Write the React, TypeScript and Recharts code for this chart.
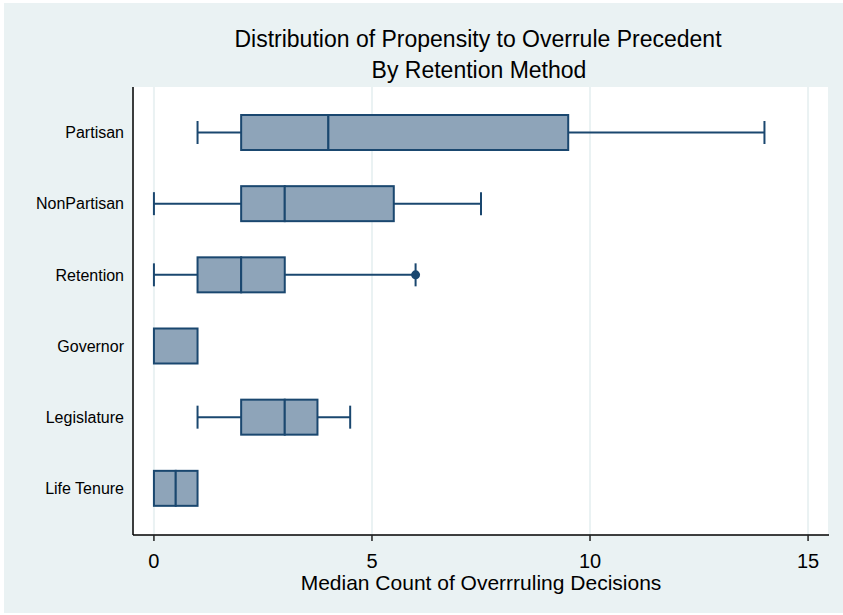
import React from 'react';
import { ComposedChart, Bar, XAxis, YAxis, CartesianGrid } from 'recharts';

const categories = ['Partisan', 'NonPartisan', 'Retention', 'Governor', 'Legislature', 'Life Tenure'];
const whiskerLow = [1, 0, 0, 0, 1, 0];
const quart1 = [2, 2, 1, 0, 2, 0];
const medians = [4, 3, 2, 1, 3, 0.5];
const quart3 = [9.5, 5.5, 3, 1, 3.75, 1];
const whiskerHigh = [14, 7.5, 6, 1, 4.5, 1];
const outliers: (number | null)[] = [null, null, 6, null, null, null];
const xTicks = [0, 5, 10, 15];

const NAVY = '#1a476f';
const BOX_FILL = '#8ea4b9';
const BG = '#eaf2f3';
const FONT = '"Liberation Sans", Arial, sans-serif';

// stacked segments: base | lower whisker | box lower | box upper | upper whisker
const data = categories.map((name, i) => ({
  name,
  base: whiskerLow[i],
  wLow: quart1[i] - whiskerLow[i],
  boxLow: medians[i] - quart1[i],
  boxHigh: quart3[i] - medians[i],
  wHigh: whiskerHigh[i] - quart3[i],
  outlier: outliers[i],
}));

const CAP = 11.5;

const LowWhisker = (p: any) => {
  const { x, y, width, height } = p;
  if (!width || width < 0.5) return <g />;
  const cy = y + height / 2;
  return (
    <g stroke={NAVY} strokeWidth={2}>
      <line x1={x} x2={x + width} y1={cy} y2={cy} />
      <line x1={x} x2={x} y1={cy - CAP} y2={cy + CAP} />
    </g>
  );
};

const HighWhisker = (p: any) => {
  const { x, y, width, height, payload } = p;
  if (!width || width < 0.5) return <g />;
  const cy = y + height / 2;
  const out = payload.outlier;
  // outlier position from the segment's own pixel scale
  const ox = out != null ? x + (width * (out - (payload.base + payload.wLow + payload.boxLow + payload.boxHigh))) / payload.wHigh : null;
  return (
    <g stroke={NAVY} strokeWidth={2}>
      <line x1={x} x2={x + width} y1={cy} y2={cy} />
      <line x1={x + width} x2={x + width} y1={cy - CAP} y2={cy + CAP} />
      {ox != null && <circle cx={ox} cy={cy} r={4.5} fill={NAVY} stroke="none" />}
    </g>
  );
};

const BoxPart = (p: any) => {
  const { x, y, width, height } = p;
  if (!width || width < 0.5) return <g />;
  return <rect x={x} y={y} width={width} height={height} fill={BOX_FILL} stroke={NAVY} strokeWidth={2} />;
};

export default function App() {
  return (
    <div style={{ position: 'absolute', left: 0, top: 0, width: 843, height: 615, background: '#fff', fontFamily: FONT }}>
      <div style={{ position: 'absolute', left: 4, top: 3, width: 839, height: 610, background: BG }} />
      <div style={{ position: 'absolute', left: 0, top: 0 }}>
        <ComposedChart
          width={843}
          height={615}
          data={data}
          layout="vertical"
          margin={{ top: 87, right: 14, left: 0, bottom: 0 }}
        >
          <CartesianGrid horizontal={false} stroke={BG} strokeWidth={2} fill="#ffffff" />
          <XAxis
            type="number"
            domain={[-0.48, 15.48]}
            ticks={xTicks}
            allowDataOverflow
            height={80}
            tickSize={6}
            tickMargin={13}
            axisLine={{ stroke: '#000', strokeWidth: 1.5 }}
            tickLine={{ stroke: '#222', strokeWidth: 1.5 }}
            tick={{ fill: '#000', fontSize: 20, fontFamily: FONT }}
            label={{ value: 'Median Count of Overrruling Decisions', position: 'insideBottom', offset: 25, fill: '#000', fontSize: 21, fontFamily: FONT }}
          />
          <YAxis
            type="category"
            dataKey="name"
            width={133}
            padding={{ top: 10, bottom: 11 }}
            tickLine={false}
            tickSize={0}
            tickMargin={9}
            axisLine={{ stroke: '#000', strokeWidth: 1.5 }}
            tick={{ fill: '#000', fontSize: 16, fontFamily: FONT }}
          />
          <Bar dataKey="base" stackId="b" barSize={35} fill="none" isAnimationActive={false} />
          <Bar dataKey="wLow" stackId="b" barSize={35} shape={LowWhisker} isAnimationActive={false} />
          <Bar dataKey="boxLow" stackId="b" barSize={35} shape={BoxPart} isAnimationActive={false} />
          <Bar dataKey="boxHigh" stackId="b" barSize={35} shape={BoxPart} isAnimationActive={false} />
          <Bar dataKey="wHigh" stackId="b" barSize={35} shape={HighWhisker} isAnimationActive={false} />
        </ComposedChart>
      </div>
      <svg width={843} height={100} style={{ position: 'absolute', left: 0, top: 0, pointerEvents: 'none' }}>
        <text x={478} y={47} textAnchor="middle" fontSize={23} fontFamily={FONT} fill="#000">
          Distribution of Propensity to Overrule Precedent
        </text>
        <text x={479} y={78} textAnchor="middle" fontSize={23} fontFamily={FONT} fill="#000">
          By Retention Method
        </text>
      </svg>
    </div>
  );
}
